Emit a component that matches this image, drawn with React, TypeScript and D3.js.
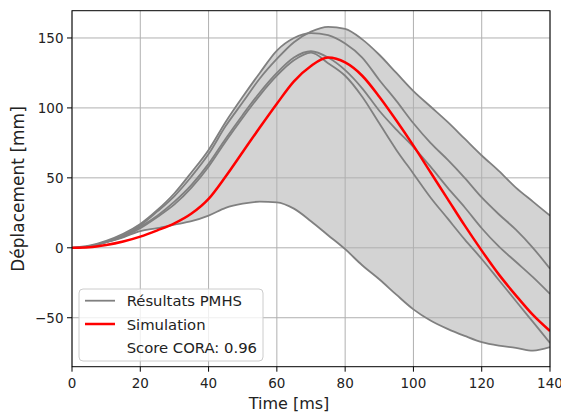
import React from "react";
import * as d3 from "d3";

const TIME = [0, 5, 10, 15, 20, 25, 30, 35, 40, 45, 50, 55, 60, 65, 70, 75, 80, 85, 90, 95, 100, 105, 110, 115, 120, 125, 130, 135, 140];

const pmhsA = [0, 1, 4.5, 9, 16, 26, 37, 51, 67, 87, 104, 121, 135, 147, 154.5, 158, 156.5, 149, 138, 125, 112, 101, 90, 78, 66, 55, 43, 33, 23];
const pmhsB = [0, 1.5, 5, 10, 17, 27, 39, 54, 70, 90, 108, 125, 141, 150, 153.5, 152, 146, 136, 120, 105, 89, 75, 63, 50, 36, 24, 13, 0, -15];
const pmhsC = [0, 1, 4, 8.5, 15, 23, 33, 45, 60, 78, 95, 111, 125, 136, 140.5, 136, 127, 114, 98, 84.5, 72, 58, 43, 29, 14, 1, -10, -21, -33];
const pmhsD = [0, 1, 4, 8, 14, 22, 31, 43, 58, 76, 93, 109, 123, 134, 139.5, 132, 123, 108, 89, 70, 53, 36, 21, 6, -8, -23, -38, -53, -68];
const pmhsE = [0, 1, 4, 7.5, 12, 14, 16.5, 19, 23, 28.5, 31.5, 33, 32.5, 28, 19, 9, -1, -12.5, -22.5, -33.5, -44, -52, -58, -63, -67.5, -70, -71.5, -73.5, -71];
const simulation = [0, 0.4, 2, 4.5, 8, 12.5, 17.5, 24.5, 35, 51, 68.5, 86, 103, 119, 130, 136, 132.5, 123, 108, 91, 73, 54, 35, 16, -2, -19, -34, -48, -59.5];

const PMHS = [pmhsA, pmhsB, pmhsC, pmhsD, pmhsE];

const X_TICKS = [0, 20, 40, 60, 80, 100, 120, 140];
const Y_TICKS = [-50, 0, 50, 100, 150];

const LEGEND_LABELS = ["Résultats PMHS", "Simulation", "Score CORA: 0.96"];
const X_LABEL = "Time [ms]";
const Y_LABEL = "Déplacement [mm]";

const W = 561;
const H = 417;
const L = 72;
const R = 550;
const T = 10.7;
const B = 366.7;
const FONT = "DejaVu Sans, sans-serif";

export default function App() {
  const x = d3.scaleLinear().domain([0, 140]).range([L, R]);
  const y = d3.scaleLinear().domain([-85, 169.5]).range([B, T]);

  const line = d3
    .line<number>()
    .x((_, i) => x(TIME[i]))
    .y((d) => y(d))
    .curve(d3.curveMonotoneX);

  const upper = TIME.map((_, i) => d3.max(PMHS, (s) => s[i]) as number);
  const lower = TIME.map((_, i) => d3.min(PMHS, (s) => s[i]) as number);
  const area = d3
    .area<number>()
    .x((_, i) => x(TIME[i]))
    .y0((_, i) => y(lower[i]))
    .y1((_, i) => y(upper[i]))
    .curve(d3.curveMonotoneX);

  const fmt = (v: number) => String(v).replace("-", "\u2212");

  const legendX = 79;
  const legendY = 289;
  const rowY = [300.7, 324, 347];

  return (
    <div style={{ position: "absolute", left: 0, top: 0, width: W, height: H, background: "#fff" }}>
      <svg width={W} height={H} style={{ display: "block" }}>
        <defs>
          <clipPath id="plotclip">
            <rect x={L} y={T} width={R - L} height={B - T} />
          </clipPath>
        </defs>
        <rect x={0} y={0} width={W} height={H} fill="#fff" />
        <g clipPath="url(#plotclip)">
          <path d={area(TIME.map(() => 0)) || ""} fill="#d3d3d3" stroke="none" />
        </g>
        {X_TICKS.map((t) => (
          <line key={"gx" + t} x1={x(t)} x2={x(t)} y1={T} y2={B} stroke="#b0b0b0" strokeWidth={1} />
        ))}
        {Y_TICKS.map((v) => (
          <line key={"gy" + v} x1={L} x2={R} y1={y(v)} y2={y(v)} stroke="#b0b0b0" strokeWidth={1} />
        ))}
        <g clipPath="url(#plotclip)">
          {PMHS.map((s, k) => (
            <path key={"p" + k} d={line(s) || ""} fill="none" stroke="#808080" strokeWidth={1.8} strokeLinejoin="round" />
          ))}
          <path d={line(simulation) || ""} fill="none" stroke="#ff0000" strokeWidth={2.5} strokeLinejoin="round" />
        </g>
        <rect x={L} y={T} width={R - L} height={B - T} fill="none" stroke="#000" strokeWidth={1} />
        {X_TICKS.map((t) => (
          <g key={"tx" + t}>
            <line x1={x(t)} x2={x(t)} y1={B} y2={B + 5} stroke="#000" strokeWidth={1} />
            <text x={x(t)} y={383} fontFamily={FONT} fontSize={13.5} textAnchor="middle" dominantBaseline="central" fill="#222">
              {fmt(t)}
            </text>
          </g>
        ))}
        {Y_TICKS.map((v) => (
          <g key={"ty" + v}>
            <line x1={L - 5} x2={L} y1={y(v)} y2={y(v)} stroke="#000" strokeWidth={1} />
            <text x={63.5} y={y(v)} fontFamily={FONT} fontSize={13.5} textAnchor="end" dominantBaseline="central" fill="#222">
              {fmt(v)}
            </text>
          </g>
        ))}
        <text x={289} y={403.5} fontFamily={FONT} fontSize={16} textAnchor="middle" dominantBaseline="central" fill="#222">
          {X_LABEL}
        </text>
        <text
          transform={`translate(18,189) rotate(-90)`}
          fontFamily={FONT}
          fontSize={17}
          textAnchor="middle"
          dominantBaseline="central"
          fill="#222"
        >
          {Y_LABEL}
        </text>
        <rect x={legendX} y={legendY} width={184} height={72} rx={4} ry={4} fill="#fff" fillOpacity={0.8} stroke="#cccccc" strokeWidth={1} />
        <line x1={85} x2={115} y1={rowY[0]} y2={rowY[0]} stroke="#808080" strokeWidth={1.8} />
        <line x1={85} x2={115} y1={rowY[1]} y2={rowY[1]} stroke="#ff0000" strokeWidth={2.5} />
        {LEGEND_LABELS.map((lab, i) => (
          <text key={lab} x={126.7} y={rowY[i]} fontFamily={FONT} fontSize={14.8} dominantBaseline="central" fill="#222">
            {lab}
          </text>
        ))}
      </svg>
    </div>
  );
}
